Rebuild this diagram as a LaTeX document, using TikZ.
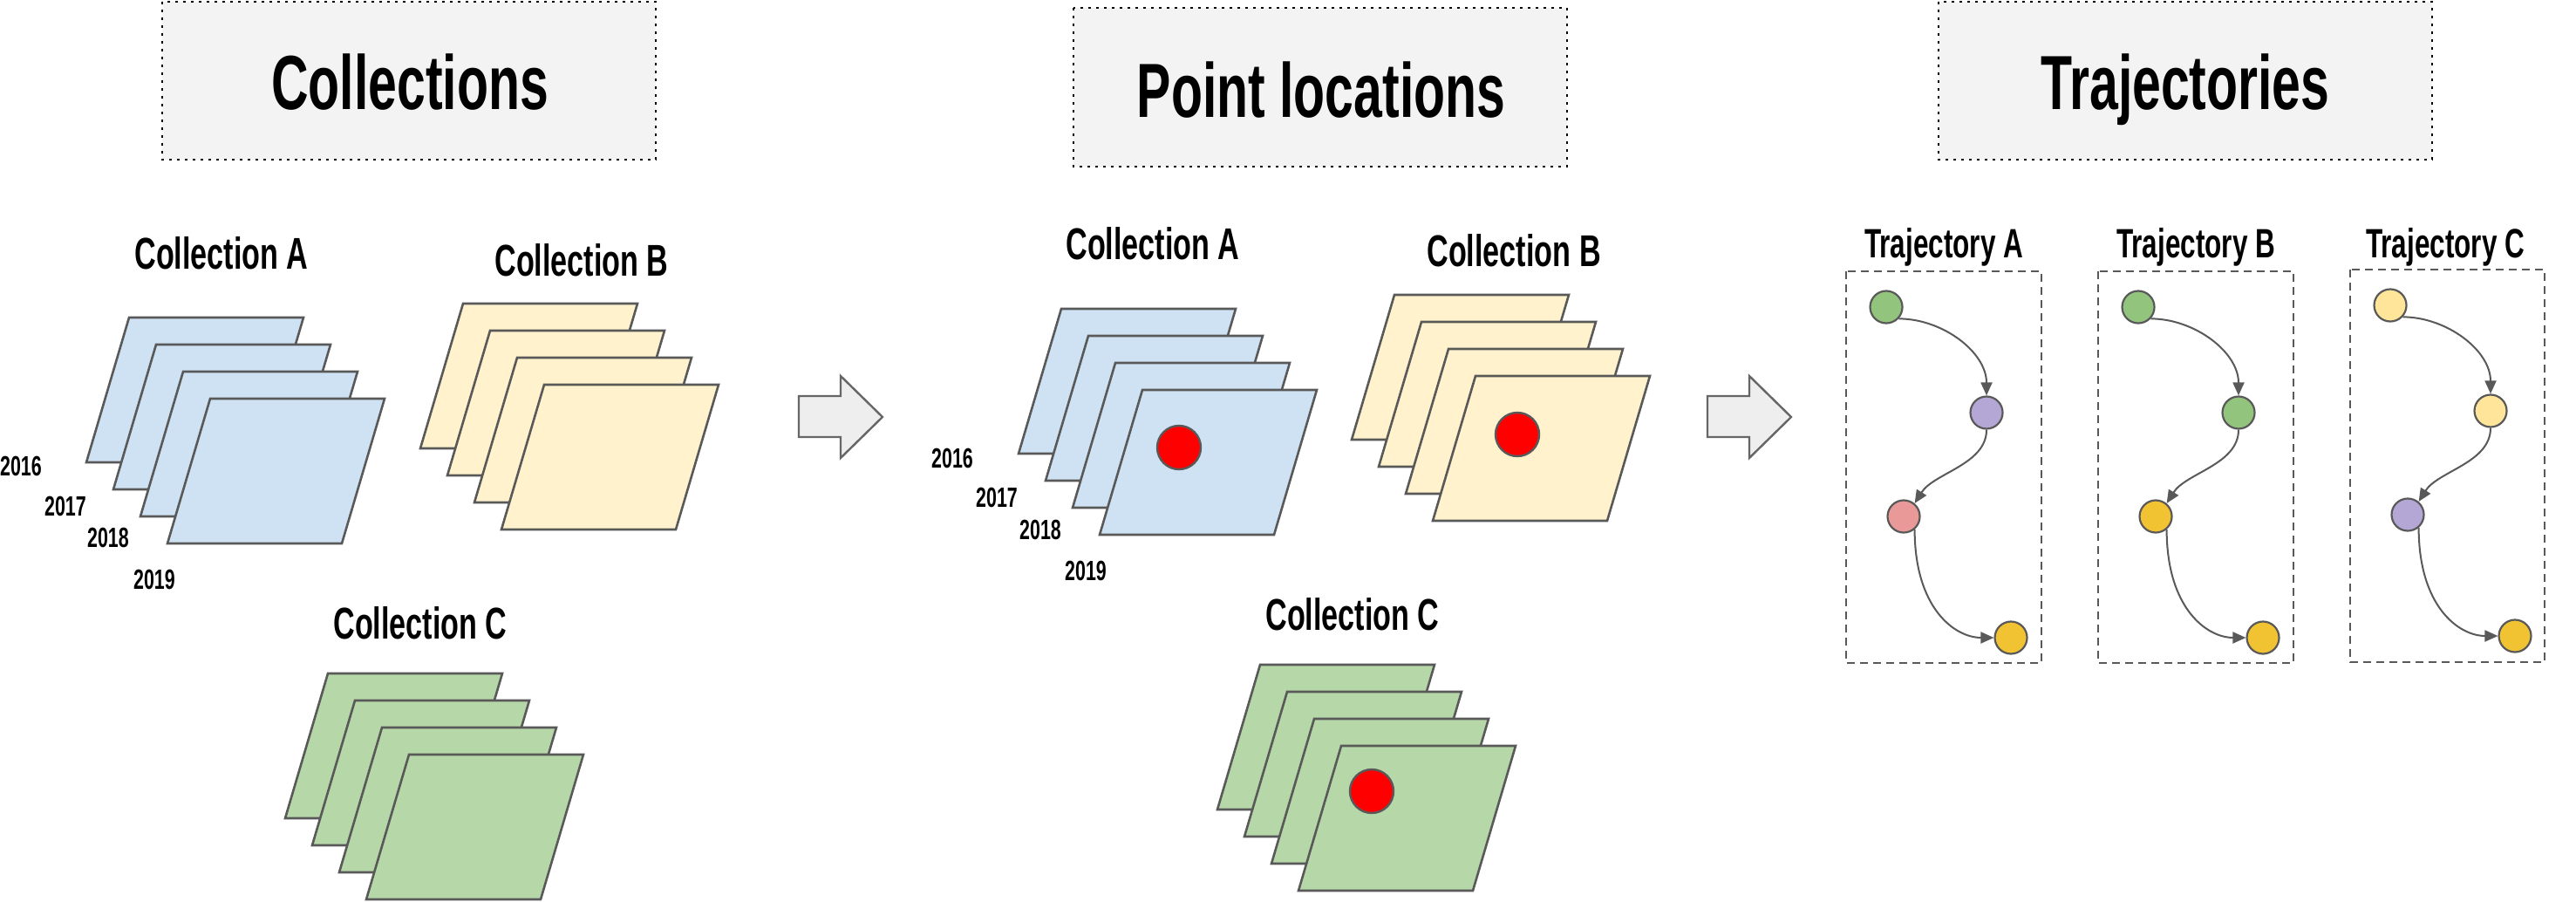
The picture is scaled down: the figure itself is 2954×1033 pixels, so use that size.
\documentclass[tikz,border=0pt]{standalone}
\usepackage{fontspec}
\newfontfamily\tk{Liberation Sans}[FakeStretch=0.67]
\usetikzlibrary{arrows.meta}
\definecolor{strk}{HTML}{595959}
\definecolor{boxfill}{HTML}{F3F3F3}
\definecolor{arrfill}{HTML}{EEEEEE}
\definecolor{arrstrk}{HTML}{666666}
\definecolor{sblue}{HTML}{CFE2F3}
\definecolor{syellow}{HTML}{FFF2CC}
\definecolor{sgreen}{HTML}{B6D7A8}
\definecolor{cgreen}{HTML}{93C47D}
\definecolor{cpurple}{HTML}{B4A7D6}
\definecolor{cpink}{HTML}{EA9999}
\definecolor{cyellow}{HTML}{F1C232}
\definecolor{clyellow}{HTML}{FFE599}
\definecolor{dotred}{HTML}{FF0000}
\tikzset{
  sheetbox/.style={draw=strk, line width=2.6pt, line join=miter},
  headbox/.style={draw=black, fill=boxfill, line width=2.6pt, dash pattern=on 2.6pt off 6.4pt},
  headtext/.style={anchor=base, inner sep=0pt, font=\tk\bfseries\fontsize{88}{90}\selectfont},
  labtext/.style={anchor=base, inner sep=0pt, font=\tk\bfseries\fontsize{51}{53}\selectfont},
  trajtext/.style={anchor=base, inner sep=0pt, font=\tk\bfseries\fontsize{47}{49}\selectfont},
  yeartext/.style={anchor=base, inner sep=0pt, font=\tk\bfseries\fontsize{32}{34}\selectfont},
  reddot/.style={circle, draw=strk, fill=dotred, line width=2.4pt, minimum size=50pt, inner sep=0pt},
  blockarrow/.style={draw=arrstrk, fill=arrfill, line width=2.4pt, line join=miter},
  trajbox/.style={draw=strk, line width=2pt, dash pattern=on 9pt off 6pt},
  tpt/.style={circle, draw=strk, line width=2.2pt, minimum size=37pt, inner sep=0pt},
  conn/.style={draw=strk, line width=2pt, -{Triangle[length=15pt,width=13pt]}}
}
\newcommand\sheetp[3]{\filldraw[sheetbox, fill=#3] (#1,#2) -- ++(200,0) -- ++(-49,166) -- ++(-200,0) -- cycle;}
\newcommand\stackp[3]{\foreach \i in {0,1,2,3} {\sheetp{#1+31*\i}{#2+31*\i}{#3}}}
\newcommand\barrow[1]{\draw[blockarrow] (#1,454) -- ++(48,0) -- ++(0,-23) -- ++(48,47) -- ++(-48,47) -- ++(0,-24) -- ++(-48,0) -- cycle;}
\begin{document}
\begin{tikzpicture}[x=1pt,y=-1pt]
\useasboundingbox (0,0) rectangle (2954,1033);
% headers
\draw[headbox] (186,2) rectangle (752,183);
\node[headtext] (h1) at (470,125) {Collections};
\draw[headbox] (1231,9) rectangle (1797,191);
\node[headtext] (h2) at (1515,134) {Point locations};
\draw[headbox] (2223,2) rectangle (2789,183);
\node[headtext] (h3) at (2506,125) {Trajectories};
% left section
\node[labtext] (lA) at (254,308) {Collection A};
\node[labtext] (lB) at (667,316) {Collection B};
\node[labtext] (lC) at (482,732) {Collection C};
\stackp{148}{364}{sblue}
\stackp{531}{348}{syellow}
\stackp{376}{772}{sgreen}
\node[yeartext] (y1) at (24,545) {2016};
\node[yeartext] (y2) at (75,591) {2017};
\node[yeartext] (y3) at (124,627) {2018};
\node[yeartext] (y4) at (177,675) {2019};
\barrow{916}
% middle section
\node[labtext] (mA) at (1322,297) {Collection A};
\node[labtext] (mB) at (1736,305) {Collection B};
\node[labtext] (mC) at (1551,722) {Collection C};
\stackp{1217}{354}{sblue}
\stackp{1599}{338}{syellow}
\stackp{1445}{762}{sgreen}
\node[reddot] (dA) at (1352,513) {};
\node[reddot] (dB) at (1740,498) {};
\node[reddot] (dC) at (1573,907) {};
\node[yeartext] (z1) at (1092,536) {2016};
\node[yeartext] (z2) at (1143,581) {2017};
\node[yeartext] (z3) at (1193,618) {2018};
\node[yeartext] (z4) at (1245,665) {2019};
\barrow{1958}
% right section
\node[trajtext] (tA) at (2229,295) {Trajectory A};
\node[trajtext] (tB) at (2518,295) {Trajectory B};
\node[trajtext] (tC) at (2804,295) {Trajectory C};
\draw[trajbox] (2117,311) rectangle (2341,760);
\draw[trajbox] (2406,311) rectangle (2630,760);
\draw[trajbox] (2695,309) rectangle (2918,759);
\node[tpt, fill=cgreen]  (a1) at (2163,352) {};
\node[tpt, fill=cpurple] (a2) at (2278,473) {};
\node[tpt, fill=cpink]   (a3) at (2183,592) {};
\node[tpt, fill=cyellow] (a4) at (2306,731) {};
\node[tpt, fill=cgreen]  (b1) at (2452,352) {};
\node[tpt, fill=cgreen]  (b2) at (2567,473) {};
\node[tpt, fill=cyellow] (b3) at (2472,592) {};
\node[tpt, fill=cyellow] (b4) at (2595,731) {};
\node[tpt, fill=clyellow] (c1) at (2741,350) {};
\node[tpt, fill=clyellow] (c2) at (2856,471) {};
\node[tpt, fill=cpurple]  (c3) at (2761,590) {};
\node[tpt, fill=cyellow]  (c4) at (2884,729) {};
\foreach \p in {a,b,c} {
  \draw[conn] (\p1.-43) .. controls +(50,0) and +(0,-50) .. (\p2.north);
  \draw[conn] (\p2.south) .. controls +(0,40) and +(22,-35) .. (\p3.50);
  \draw[conn] (\p3.-50) .. controls +(0,90) and +(-45,0) .. (\p4.west);
}
\end{tikzpicture}
\end{document}
